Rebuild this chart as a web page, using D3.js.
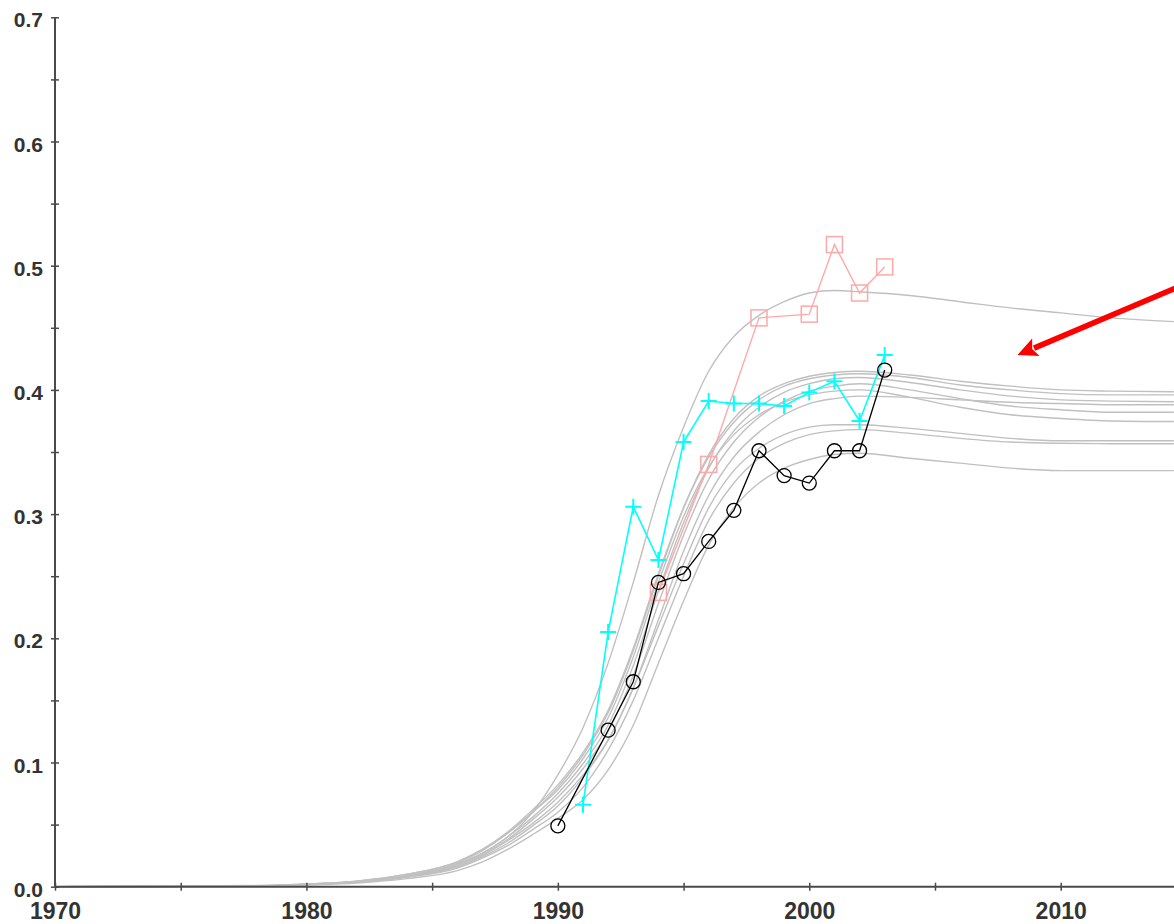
<!DOCTYPE html>
<html>
<head>
<meta charset="utf-8">
<script src="https://cdn.jsdelivr.net/npm/d3@7"></script>
<style>
html,body{margin:0;padding:0;background:#fff;overflow:hidden;}
svg{display:block;}
</style>
</head>
<body>
<svg id="chart" width="1174" height="924"></svg>
<script>
// ---------- DATA ----------
const curveYears = [1970,1978,1980,1982,1984,1986,1987,1988,1989,1990,1991,1992,1993,1994,1995,1996,1997,1998,1999,2000,2001,2002,2004,2006,2008,2010,2012,2014.5];
const curve1  = [0,0.001,0.002,0.004,0.009,0.018,0.027,0.040,0.060,0.090,0.128,0.180,0.245,0.315,0.370,0.415,0.443,0.460,0.471,0.478,0.480,0.479,0.476,0.471,0.466,0.462,0.458,0.455];
const curve2  = [0,0.0005,0.002,0.004,0.009,0.019,0.029,0.043,0.060,0.080,0.106,0.140,0.190,0.250,0.305,0.348,0.377,0.395,0.405,0.411,0.414,0.415,0.412,0.407,0.403,0.400,0.399,0.3985];
const curve3  = [0,0.0005,0.002,0.0045,0.010,0.020,0.030,0.044,0.062,0.082,0.108,0.142,0.192,0.252,0.305,0.346,0.374,0.392,0.403,0.409,0.412,0.413,0.410,0.404,0.400,0.397,0.396,0.396];
const curve4  = [0,0.0005,0.002,0.004,0.008,0.018,0.027,0.040,0.056,0.075,0.099,0.130,0.178,0.238,0.293,0.337,0.367,0.386,0.398,0.405,0.409,0.410,0.406,0.400,0.395,0.392,0.391,0.3905];
const curve5  = [0,0.0005,0.0018,0.0038,0.008,0.017,0.026,0.038,0.054,0.072,0.095,0.125,0.170,0.228,0.283,0.328,0.358,0.378,0.391,0.399,0.403,0.405,0.400,0.393,0.387,0.384,0.382,0.382];
const curve6  = [0,0.0006,0.0022,0.0045,0.010,0.020,0.030,0.043,0.060,0.078,0.103,0.136,0.185,0.245,0.298,0.338,0.364,0.380,0.390,0.396,0.399,0.400,0.394,0.386,0.380,0.377,0.375,0.3745];
const curve7  = [0,0.0005,0.0018,0.0038,0.008,0.016,0.025,0.037,0.051,0.068,0.090,0.118,0.160,0.215,0.270,0.315,0.346,0.366,0.380,0.389,0.393,0.395,0.394,0.392,0.390,0.389,0.388,0.388];
const curve8  = [0,0.0005,0.0018,0.0038,0.008,0.016,0.024,0.035,0.049,0.065,0.088,0.118,0.160,0.210,0.260,0.305,0.335,0.353,0.364,0.370,0.372,0.372,0.369,0.365,0.361,0.359,0.359,0.359];
const curve9  = [0,0.0005,0.0017,0.0035,0.0075,0.015,0.023,0.033,0.046,0.060,0.080,0.110,0.150,0.200,0.250,0.295,0.325,0.345,0.357,0.364,0.367,0.368,0.365,0.361,0.358,0.357,0.3567,0.3567];
const curve10 = [0,0.0004,0.0015,0.003,0.0065,0.013,0.020,0.030,0.042,0.055,0.070,0.094,0.130,0.180,0.230,0.275,0.305,0.325,0.337,0.344,0.348,0.349,0.345,0.341,0.337,0.335,0.335,0.335];
const modelCurves = [curve1,curve2,curve3,curve4,curve5,curve6,curve7,curve8,curve9,curve10];

const blackYears = [1990,1992,1993,1994,1995,1996,1997,1998,1999,2000,2001,2002,2003];
const blackVals  = [0.049,0.126,0.165,0.245,0.252,0.278,0.303,0.351,0.331,0.325,0.351,0.351,0.416];
const cyanYears  = [1991,1992,1993,1994,1995,1996,1997,1998,1999,2000,2001,2002,2003];
const cyanVals   = [0.066,0.205,0.306,0.263,0.358,0.391,0.389,0.389,0.387,0.398,0.407,0.375,0.428];
const pinkYears  = [1994,1996,1998,2000,2001,2002,2003];
const pinkVals   = [0.237,0.340,0.458,0.461,0.517,0.478,0.499];

const xTickValues   = [1970,1975,1980,1985,1990,1995,2000,2005,2010];
const xTickLabels   = ["1970","","1980","","1990","","2000","","2010"];
const yTickValues   = [0,0.05,0.1,0.15,0.2,0.25,0.3,0.35,0.4,0.45,0.5,0.55,0.6,0.65,0.7];
const yTickLabels   = ["0.0","","0.1","","0.2","","0.3","","0.4","","0.5","","0.6","","0.7"];

const arrowFrom = [2015.15, 0.487];
const arrowTo   = [2008.28, 0.428];

// ---------- SCALES ----------
const svg = d3.select("#chart");
const x = d3.scaleLinear().domain([1970, 2010]).range([55, 1060.7]);
const y = d3.scaleLinear().domain([0, 0.7]).range([886.7, 17.3]);

const AXIS_COLOR = "#4a4a4a";
const FONT = "'Liberation Sans', Arial, sans-serif";

// ---------- MODEL CURVES ----------
const line = d3.line().x(d => x(d[0])).y(d => y(d[1])).curve(d3.curveMonotoneX);
const gCurves = svg.append("g");
modelCurves.forEach(vals => {
  gCurves.append("path")
    .attr("d", line(curveYears.map((yr, i) => [yr, vals[i]])))
    .attr("fill", "none")
    .attr("stroke", "#c0c0c0")
    .attr("stroke-width", 1.4);
});

const lineStraight = d3.line().x(d => x(d[0])).y(d => y(d[1]));

// ---------- PINK SERIES ----------
const pinkData = pinkYears.map((yr, i) => [yr, pinkVals[i]]);
svg.append("path").attr("d", lineStraight(pinkData))
  .attr("fill", "none").attr("stroke", "#ffa8a8").attr("stroke-width", 1.4);
svg.append("g").selectAll("rect").data(pinkData).join("rect")
  .attr("x", d => x(d[0]) - 8).attr("y", d => y(d[1]) - 8)
  .attr("width", 16).attr("height", 16)
  .attr("fill", "none").attr("stroke", "#ffa8a8").attr("stroke-width", 1.5);

// ---------- CYAN SERIES ----------
const cyanData = cyanYears.map((yr, i) => [yr, cyanVals[i]]);
svg.append("path").attr("d", lineStraight(cyanData))
  .attr("fill", "none").attr("stroke", "#00ffff").attr("stroke-width", 1.6);
svg.append("g").selectAll("path").data(cyanData).join("path")
  .attr("d", d => {
    const cx = x(d[0]), cy = y(d[1]);
    return `M${cx-8},${cy}H${cx+8}M${cx},${cy-8}V${cy+8}`;
  })
  .attr("stroke", "#00ffff").attr("stroke-width", 2).attr("fill", "none");

// ---------- BLACK SERIES ----------
const blackData = blackYears.map((yr, i) => [yr, blackVals[i]]);
svg.append("path").attr("d", lineStraight(blackData))
  .attr("fill", "none").attr("stroke", "#000").attr("stroke-width", 1.3);
svg.append("g").selectAll("circle").data(blackData).join("circle")
  .attr("cx", d => x(d[0])).attr("cy", d => y(d[1])).attr("r", 7)
  .attr("fill", "none").attr("stroke", "#000").attr("stroke-width", 1.3);

// ---------- AXES ----------
const yAxisG = svg.append("g").attr("transform", `translate(${x(1970)},0)`)
  .call(d3.axisLeft(y).tickValues(yTickValues).tickSize(0).tickFormat((d, i) => yTickLabels[i]));
yAxisG.select(".domain").remove();
yAxisG.selectAll(".tick text")
  .attr("x", -12).attr("dy", null).attr("y", 9.5)
  .attr("font-family", FONT).attr("font-weight", "bold").attr("font-size", 21)
  .attr("fill", "#333");
yAxisG.selectAll(".tick line").attr("x1", -4).attr("x2", 4)
  .attr("stroke", AXIS_COLOR).attr("stroke-width", 1.5);
svg.append("line").attr("x1", x(1970)).attr("x2", x(1970))
  .attr("y1", y(0.7)).attr("y2", y(0))
  .attr("stroke", AXIS_COLOR).attr("stroke-width", 2);

const xAxisG = svg.append("g").attr("transform", `translate(0,${y(0)})`)
  .call(d3.axisBottom(x).tickValues(xTickValues).tickSize(0).tickFormat((d, i) => xTickLabels[i]));
xAxisG.select(".domain").remove();
xAxisG.selectAll(".tick line").attr("y1", -4).attr("y2", 4)
  .attr("stroke", AXIS_COLOR).attr("stroke-width", 1.5);
xAxisG.selectAll(".tick text")
  .attr("y", 32.5).attr("dy", null)
  .attr("font-family", FONT).attr("font-weight", "bold").attr("font-size", 23)
  .attr("fill", "#333");
svg.append("line").attr("x1", x(1970)).attr("x2", 1174)
  .attr("y1", y(0)).attr("y2", y(0))
  .attr("stroke", AXIS_COLOR).attr("stroke-width", 2);

// ---------- ARROW ANNOTATION ----------
const ax0 = x(arrowFrom[0]), ay0 = y(arrowFrom[1]);
const ax1 = x(arrowTo[0]),   ay1 = y(arrowTo[1]);
const len = Math.hypot(ax1 - ax0, ay1 - ay0);
const ux = (ax1 - ax0) / len, uy = (ay1 - ay0) / len;
const headLen = 20, headHalf = 9.5;
const bx = ax1 - ux * headLen, by = ay1 - uy * headLen;
svg.append("line").attr("x1", ax0).attr("y1", ay0)
  .attr("x2", bx + ux * 2).attr("y2", by + uy * 2)
  .attr("stroke", "#ff0000").attr("stroke-width", 5.5);
svg.append("path")
  .attr("d", `M${ax1},${ay1}L${bx - uy * headHalf},${by + ux * headHalf}L${bx + ux*4},${by + uy*4}L${bx + uy * headHalf},${by - ux * headHalf}Z`)
  .attr("fill", "#ff0000");
</script>
</body>
</html>
